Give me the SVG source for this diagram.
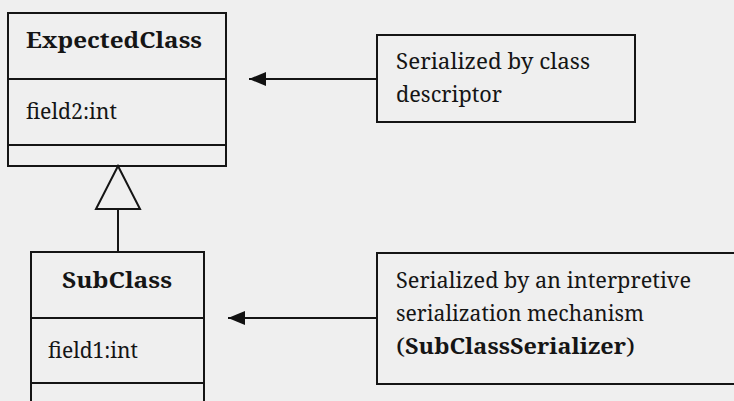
<svg xmlns="http://www.w3.org/2000/svg" width="734" height="401" viewBox="0 0 734 401">
  <style>
    .box { fill: none; stroke: #151515; stroke-width: 2; }
    .line { stroke: #151515; stroke-width: 2; fill: none; }
    .t { font-family: "Noto Serif", "Liberation Serif", "DejaVu Serif", serif; font-size: 21px; fill: #151515; }
    .b { font-weight: bold; }
  </style>
  <defs>
    <marker id="arrow" markerUnits="userSpaceOnUse" markerWidth="20" markerHeight="16" refX="19" refY="8" orient="auto" viewBox="0 0 20 16">
      <path d="M19,8 L2,1 L2,15 Z" fill="#111"/>
    </marker>
  </defs>
  <rect width="734" height="401" fill="#efefef"/>

  <g id="ExpectedClass">
    <rect class="box" x="8" y="13" width="218" height="153"/>
    <line class="line" x1="8" y1="79" x2="226" y2="79"/>
    <line class="line" x1="8" y1="145" x2="226" y2="145"/>
    <text class="t b" x="26" y="48" textLength="176" lengthAdjust="spacingAndGlyphs">ExpectedClass</text>
    <text class="t" x="26" y="119" textLength="91" lengthAdjust="spacingAndGlyphs">field2:int</text>
  </g>

  <g id="SubClass">
    <rect class="box" x="31" y="252" width="173" height="170"/>
    <line class="line" x1="31" y1="318" x2="204" y2="318"/>
    <line class="line" x1="31" y1="383" x2="204" y2="383"/>
    <text class="t b" x="62" y="288" textLength="110" lengthAdjust="spacingAndGlyphs">SubClass</text>
    <text class="t" x="48" y="358" textLength="90" lengthAdjust="spacingAndGlyphs">field1:int</text>
  </g>

  <g id="note1">
    <rect class="box" x="377" y="35" width="258" height="87"/>
    <text class="t" x="396" y="69" textLength="194" lengthAdjust="spacingAndGlyphs">Serialized by class</text>
    <text class="t" x="396" y="102" textLength="106" lengthAdjust="spacingAndGlyphs">descriptor</text>
  </g>

  <g id="note2">
    <rect class="box" x="377" y="253" width="380" height="131"/>
    <text class="t" x="396" y="288" textLength="295" lengthAdjust="spacingAndGlyphs">Serialized by an interpretive</text>
    <text class="t" x="396" y="321" textLength="248" lengthAdjust="spacingAndGlyphs">serialization mechanism</text>
    <text class="t" y="354"><tspan x="396" textLength="9" lengthAdjust="spacingAndGlyphs">(</tspan><tspan class="b" x="405" textLength="221" lengthAdjust="spacingAndGlyphs">SubClassSerializer</tspan><tspan x="626" textLength="9" lengthAdjust="spacingAndGlyphs">)</tspan></text>
  </g>

  <g id="connectors">
    <polygon class="line" points="118,166 96,209 140,209"/>
    <line class="line" x1="118" y1="209" x2="118" y2="252"/>
    <line class="line" x1="377" y1="79" x2="249" y2="79" marker-end="url(#arrow)"/>
    <line class="line" x1="377" y1="318" x2="228" y2="318" marker-end="url(#arrow)"/>
  </g>
</svg>
